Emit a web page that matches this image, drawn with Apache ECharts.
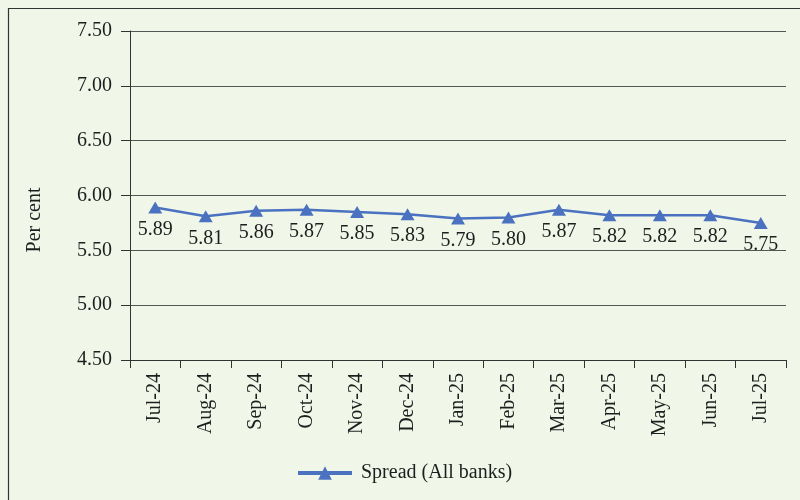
<!DOCTYPE html>
<html>
<head>
<meta charset="utf-8">
<script src="https://cdn.jsdelivr.net/npm/echarts@6/dist/echarts.min.js"></script>
<style>
  html, body { margin: 0; padding: 0; background: #f0f6e8; }
  #chart { width: 800px; height: 500px; }
</style>
</head>
<body>
<div id="chart"></div>
<script>
// Monthly spread for all banks, per cent
const months = ['Jul-24', 'Aug-24', 'Sep-24', 'Oct-24', 'Nov-24', 'Dec-24', 'Jan-25',
                'Feb-25', 'Mar-25', 'Apr-25', 'May-25', 'Jun-25', 'Jul-25'];
const spreadAllBanks = [5.89, 5.81, 5.86, 5.87, 5.85, 5.83, 5.79, 5.80, 5.87, 5.82, 5.82, 5.82, 5.75];
const seriesName = 'Spread (All banks)';
const yAxisTitle = 'Per cent';

const FONT = '"Liberation Serif", "DejaVu Serif", serif';
const INK = '#1e1e1e';
const BLUE = '#4a72c0';
const FS = 20;

const chart = echarts.init(document.getElementById('chart'), null, { renderer: 'canvas' });

chart.setOption({
  backgroundColor: '#f0f6e8',
  animation: false,
  textStyle: { fontFamily: FONT, color: INK },
  graphic: [
    {
      type: 'rect',
      shape: { x: 8.5, y: 8.5, width: 800, height: 500 },
      style: { fill: 'none', stroke: '#333', lineWidth: 1.2 },
      silent: true
    },
    {
      type: 'text',
      x: 35,
      y: 220,
      rotation: Math.PI / 2,
      style: {
        text: yAxisTitle,
        font: FS + 'px ' + FONT,
        fill: INK,
        align: 'center',
        verticalAlign: 'middle'
      },
      silent: true
    }
  ],
  grid: { left: 130, right: 14, top: 31, bottom: 140 },
  legend: {
    data: [seriesName],
    left: 291,
    top: 458,
    itemWidth: 54,
    itemHeight: 17,
    itemGap: 10,
    lineStyle: { width: 4 },
    textStyle: { fontFamily: FONT, fontSize: FS, color: INK, padding: [0, 0, 0, 4] }
  },
  xAxis: {
    type: 'category',
    data: months,
    boundaryGap: true,
    axisLine: { lineStyle: { color: '#333', width: 1 } },
    axisTick: { show: true, length: 8, lineStyle: { color: '#333' } },
    axisLabel: {
      rotate: 90,
      margin: 13,
      fontFamily: FONT,
      fontSize: FS,
      color: INK
    },
    splitLine: { show: false }
  },
  yAxis: {
    type: 'value',
    min: 4.5,
    max: 7.5,
    interval: 0.5,
    axisLine: { show: true, lineStyle: { color: '#333', width: 1 } },
    axisTick: { show: true, length: 9, lineStyle: { color: '#333' } },
    axisLabel: {
      margin: 18,
      fontFamily: FONT,
      fontSize: FS,
      color: INK,
      formatter: v => v.toFixed(2)
    },
    splitLine: { show: true, lineStyle: { color: '#555', width: 1 } }
  },
  series: [{
    name: seriesName,
    type: 'line',
    data: spreadAllBanks,
    symbol: 'triangle',
    symbolSize: [14, 12],
    lineStyle: { color: BLUE, width: 2.5 },
    itemStyle: { color: BLUE },
    label: {
      show: true,
      position: 'bottom',
      distance: 6,
      fontFamily: FONT,
      fontSize: FS,
      color: INK,
      formatter: p => p.value.toFixed(2)
    }
  }]
});
</script>
</body>
</html>
